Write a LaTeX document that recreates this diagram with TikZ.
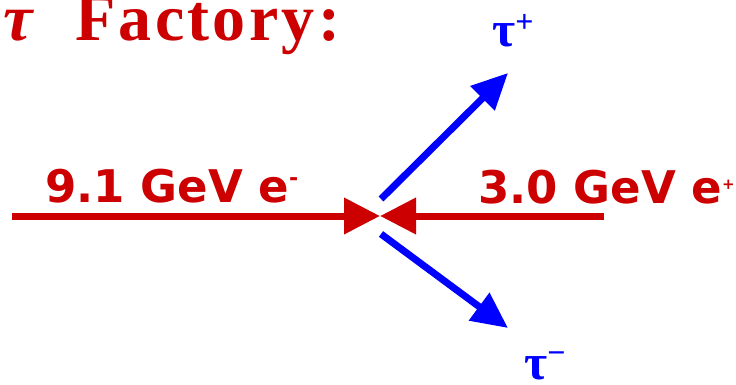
\documentclass[tikz,border=0pt]{standalone}
\usepackage{fontspec}
\setmainfont{Liberation Serif}
\newfontfamily\labelfont{DejaVu Sans}
\newfontfamily\titlefont[LetterSpace=5]{Liberation Serif}
\usetikzlibrary{arrows.meta}
\definecolor{beamred}{HTML}{CC0000}
\definecolor{taublue}{HTML}{0000FF}
\begin{document}
\begin{tikzpicture}[x=1pt,y=-1pt,
  beam/.style={draw=beamred, line width=7pt, -{Triangle[length=36pt,width=35pt]}},
  decay/.style={draw=taublue, line width=7pt, -{Triangle[length=36pt,width=33pt]}},
  beamlabel/.style={text=beamred, font=\labelfont\bfseries\fontsize{45}{45}\selectfont, anchor=base west, inner sep=0pt},
  taulabel/.style={text=taublue, font=\bfseries\fontsize{50}{50}\selectfont, anchor=base west, inner sep=0pt},
  titletext/.style={text=beamred, font=\titlefont\bfseries\fontsize{66}{66}\selectfont, anchor=base west, inner sep=0pt}
  ]
\useasboundingbox (0,0) rectangle (736,385);
% title
\node[titletext] (titletau) at (3,41) {\itshape τ};
\node[titletext] (titleword) at (75,41) {Factory:};
% beams
\coordinate (eminus) at (12,216);
\coordinate (eplus) at (604,216);
\coordinate (ip) at (380,216);
\draw[beam] (eminus) -- (ip);
\draw[beam] (eplus) -- (ip);
% decays
\coordinate (upstart) at (381,199);
\coordinate (uptip) at (508,73);
\coordinate (downstart) at (381,234);
\coordinate (downtip) at (508,328);
\draw[decay] (upstart) -- (uptip);
\draw[decay] (downstart) -- (downtip);
% labels
\node[beamlabel] (elab) at (45,202) {9.1 GeV e\raisebox{17pt}{\fontsize{22}{22}\selectfont -}};
\node[beamlabel] (plab) at (478,203) {3.0 GeV e\raisebox{14pt}{\fontsize{15}{15}\selectfont +}};
\node[taulabel] (tauplus) at (492,47) {τ\raisebox{14pt}{\fontsize{32}{32}\selectfont +}};
\node[taulabel] (tauminus) at (524,379) {τ\raisebox{16pt}{\fontsize{32}{32}\selectfont −}};
\end{tikzpicture}
\end{document}
